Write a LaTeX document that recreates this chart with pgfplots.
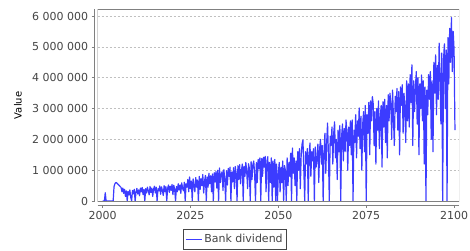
\documentclass[border=0pt]{standalone}
\usepackage{fontspec}
\setmainfont{DejaVu Sans}
\usepackage{pgfplots}
\usepackage{pgfplotstable}
\pgfplotsset{compat=1.18}
\definecolor{tickgray}{RGB}{68,68,68}
\definecolor{axgray}{RGB}{128,128,128}
\definecolor{gridgray}{RGB}{192,192,192}
\definecolor{serblue}{RGB}{60,60,255}
\pgfplotstableread{
year v
2000.00 0
2000.25 0
2000.50 0
2000.75 270000
2001.00 0
2001.25 0
2001.50 0
2001.75 0
2002.00 0
2002.25 0
2002.50 0
2002.75 0
2003.00 0
2003.25 470000
2003.50 560000
2003.75 600000
2004.00 590000
2004.25 560000
2004.50 530000
2004.75 500000
2005.00 470000
2005.25 440000
2005.50 300000
2005.75 420000
2006.00 250000
2006.25 380000
2006.50 150000
2006.75 330000
2007.00 0
2007.25 310000
2007.50 200000
2007.75 360000
2008.00 120000
2008.25 0
2008.50 340000
2008.75 230000
2009.00 380000
2009.25 0
2009.50 290000
2009.75 410000
2010.00 230000
2010.25 360000
2010.50 170000
2010.75 420000
2011.00 300000
2011.25 440000
2011.50 210000
2011.75 380000
2012.00 0
2012.25 400000
2012.50 260000
2012.75 450000
2013.00 330000
2013.25 200000
2013.50 470000
2013.75 280000
2014.00 420000
2014.25 150000
2014.50 390000
2014.75 480000
2015.00 260000
2015.25 450000
2015.50 0
2015.75 400000
2016.00 330000
2016.25 490000
2016.50 220000
2016.75 460000
2017.00 350000
2017.25 180000
2017.50 500000
2017.75 300000
2018.00 470000
2018.25 0
2018.50 420000
2018.75 520000
2019.00 280000
2019.25 480000
2019.50 350000
2019.75 540000
2020.00 210000
2020.25 510000
2020.50 380000
2020.75 0
2021.00 470000
2021.25 300000
2021.50 560000
2021.75 360000
2022.00 520000
2022.25 250000
2022.50 590000
2022.75 420000
2023.00 330000
2023.25 610000
2023.50 0
2023.75 560000
2024.00 450000
2024.25 700000
2024.50 300000
2024.75 780000
2025.00 400000
2025.25 650000
2025.50 0
2025.75 720000
2026.00 520000
2026.25 300000
2026.50 760000
2026.75 450000
2027.00 680000
2027.25 0
2027.50 800000
2027.75 380000
2028.00 720000
2028.25 500000
2028.50 860000
2028.75 260000
2029.00 640000
2029.25 830000
2029.50 0
2029.75 780000
2030.00 450000
2030.25 900000
2030.50 560000
2030.75 820000
2031.00 300000
2031.25 880000
2031.50 0
2031.75 920000
2032.00 620000
2032.25 960000
2032.50 420000
2032.75 1000000
2033.00 0
2033.25 1070000
2033.50 600000
2033.75 880000
2034.00 950000
2034.25 340000
2034.50 1020000
2034.75 700000
2035.00 0
2035.25 980000
2035.50 520000
2035.75 1060000
2036.00 800000
2036.25 1100000
2036.50 0
2036.75 940000
2037.00 620000
2037.25 1080000
2037.50 400000
2037.75 1120000
2038.00 900000
2038.25 0
2038.50 1150000
2038.75 700000
2039.00 1180000
2039.25 560000
2039.50 1000000
2039.75 1200000
2040.00 0
2040.25 1130000
2040.50 800000
2040.75 1250000
2041.00 950000
2041.25 400000
2041.50 1210000
2041.75 1060000
2042.00 0
2042.25 1280000
2042.50 700000
2042.75 1180000
2043.00 1300000
2043.25 900000
2043.50 0
2043.75 1250000
2044.00 600000
2044.25 1350000
2044.50 1050000
2044.75 1400000
2045.00 0
2045.25 1380000
2045.50 800000
2045.75 1420000
2046.00 1100000
2046.25 1450000
2046.50 300000
2046.75 1300000
2047.00 1440000
2047.25 0
2047.50 1250000
2047.75 600000
2048.00 1400000
2048.25 0
2048.50 1300000
2048.75 450000
2049.00 1350000
2049.25 0
2049.50 1200000
2049.75 0
2050.00 900000
2050.25 1250000
2050.50 300000
2050.75 1100000
2051.00 600000
2051.25 1300000
2051.50 0
2051.75 1150000
2052.00 1000000
2052.25 0
2052.50 1400000
2052.75 500000
2053.00 1250000
2053.25 800000
2053.50 1550000
2053.75 0
2054.00 1720000
2054.25 900000
2054.50 1400000
2054.75 500000
2055.00 1300000
2055.25 0
2055.50 1600000
2055.75 1000000
2056.00 1700000
2056.25 400000
2056.50 1500000
2056.75 1850000
2057.00 1980000
2057.25 1000000
2057.50 0
2057.75 1600000
2058.00 1200000
2058.25 1700000
2058.50 0
2058.75 1500000
2059.00 1880000
2059.25 800000
2059.50 1600000
2059.75 1300000
2060.00 1700000
2060.25 0
2060.50 1750000
2060.75 1100000
2061.00 1400000
2061.25 1850000
2061.50 600000
2061.75 1700000
2062.00 2000000
2062.25 1200000
2062.50 1800000
2062.75 0
2063.00 1600000
2063.25 2200000
2063.50 900000
2063.75 1900000
2064.00 2530000
2064.25 1500000
2064.50 0
2064.75 2100000
2065.00 1800000
2065.25 2400000
2065.50 1200000
2065.75 2200000
2066.00 2570000
2066.25 1400000
2066.50 2000000
2066.75 700000
2067.00 2300000
2067.25 1600000
2067.50 2450000
2067.75 0
2068.00 2100000
2068.25 2500000
2068.50 1300000
2068.75 2350000
2069.00 1600000
2069.25 2630000
2069.50 2250000
2069.75 1000000
2070.00 2400000
2070.25 1800000
2070.50 2600000
2070.75 1500000
2071.00 2630000
2071.25 0
2071.50 2300000
2071.75 1900000
2072.00 2800000
2072.25 1400000
2072.50 2600000
2072.75 2100000
2073.00 3020000
2073.25 1700000
2073.50 2750000
2073.75 1000000
2074.00 2500000
2074.25 2900000
2074.50 1600000
2074.75 3100000
2075.00 0
2075.25 2800000
2075.50 2200000
2075.75 3200000
2076.00 1500000
2076.25 3250000
2076.50 2600000
2076.75 3390000
2077.00 3150000
2077.25 1800000
2077.50 2900000
2077.75 1200000
2078.00 3000000
2078.25 2300000
2078.50 3250000
2078.75 1700000
2079.00 2700000
2079.25 3100000
2079.50 1100000
2079.75 3220000
2080.00 2400000
2080.25 3300000
2080.50 1900000
2080.75 3100000
2081.00 1400000
2081.25 3450000
2081.50 2600000
2081.75 3500000
2082.00 3200000
2082.25 2000000
2082.50 3600000
2082.75 2700000
2083.00 1800000
2083.25 3400000
2083.50 2900000
2083.75 3650000
2084.00 2300000
2084.25 3550000
2084.50 1500000
2084.75 3700000
2085.00 3100000
2085.25 3770000
2085.50 2200000
2085.75 3500000
2086.00 3000000
2086.25 1900000
2086.50 3900000
2086.75 2600000
2087.00 3800000
2087.25 2400000
2087.50 4100000
2087.75 3200000
2088.00 4420000
2088.25 1800000
2088.50 3900000
2088.75 2900000
2089.00 3700000
2089.25 4200000
2089.50 2500000
2089.75 4000000
2090.00 1500000
2090.25 3800000
2090.50 3000000
2090.75 4090000
2091.00 2600000
2091.25 3900000
2091.50 1200000
2091.75 3700000
2092.00 0
2092.25 3600000
2092.50 2800000
2092.75 4100000
2093.00 3300000
2093.25 4200000
2093.50 2000000
2093.75 3900000
2094.00 1600000
2094.25 4500000
2094.50 3500000
2094.75 4740000
2095.00 2800000
2095.25 4400000
2095.50 3300000
2095.75 5120000
2096.00 4000000
2096.25 2500000
2096.50 4800000
2096.75 0
2097.00 4600000
2097.25 5100000
2097.50 3000000
2097.75 4900000
2098.00 0
2098.25 5300000
2098.50 3800000
2098.75 5600000
2099.00 4500000
2099.25 5950000
2099.50 4200000
2099.75 5500000
2100.00 4900000
2100.25 2300000
}\bankdata
\begin{document}
\begin{tikzpicture}
\path[use as bounding box] (-97.7bp,-49.5bp) rectangle (372.3bp,201.5bp);
\begin{axis}[
  at={(0,0)}, anchor=south west,
  scale only axis,
  width=361.3bp, height=192.2bp,
  xmin=1998.6, xmax=2101.4,
  ymin=-15000, ymax=6220000,
  separate axis lines,
  axis x line*=bottom, axis y line*=left,
  axis x line shift=3.5bp, axis y line shift=3.5bp,
  axis line style={axgray, line width=0.8bp},
  xtick={2000,2025,2050,2075,2100},
  ytick={0,1000000,2000000,3000000,4000000,5000000,6000000},
  scaled y ticks=false,
  tick align=outside,
  major tick length=2.5bp,
  tick style={axgray, line width=0.6bp},
  minor tick num=0,
  ymajorgrids,
  grid style={gridgray, dash pattern=on 2bp off 2bp, line width=0.5bp},
  tick label style={font=\fontsize{11bp}{13bp}\selectfont, text=tickgray},
  yticklabel style={/pgf/number format/fixed, /pgf/number format/1000 sep={\ }, /pgf/number format/assume math mode=true},
  xticklabel style={/pgf/number format/1000 sep={}, /pgf/number format/assume math mode=true},
  ylabel={Value},
  ylabel style={font=\fontsize{11bp}{13bp}\selectfont, text=tickgray},
  every axis y label/.style={at={(rel axis cs:0,0.5)}, xshift=-79.7bp, rotate=90, anchor=center},
  legend style={at={(0.380,-0.1446)}, anchor=north, draw={rgb,255:red,70;green,70;blue,70},
    line width=0.7bp, font=\fontsize{11bp}{13bp}\selectfont, text=tickgray,
    inner xsep=2bp, inner ysep=3bp, cells={anchor=west}},
  legend image code/.code={\draw[draw=serblue, line width=1bp] (0bp,0bp) -- (16bp,0bp);},
]
\addplot[serblue, line width=1.2bp, line join=round] table[x=year, y=v] {\bankdata};
\addlegendentry{Bank dividend}
\draw[axgray, line width=0.8bp] (rel axis cs:0,0) rectangle (rel axis cs:1,1);
\end{axis}
\end{tikzpicture}
\end{document}
